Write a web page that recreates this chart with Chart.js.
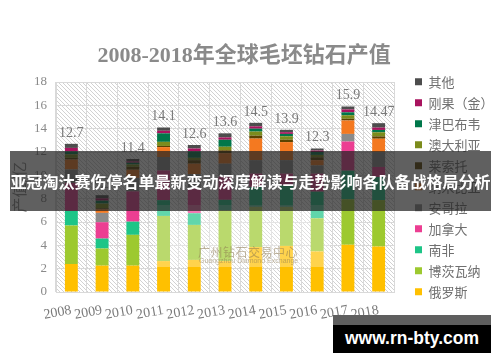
<!DOCTYPE html>
<html>
<head>
<meta charset="utf-8">
<script src="https://cdn.jsdelivr.net/npm/chart.js@4.4.1/dist/chart.umd.min.js"></script>
<style>
  body { margin: 0; background: #fff; }
  #wrap { position: relative; width: 500px; height: 362px; }
  canvas { display: block; }
  .over { position: absolute; }
  #haze { left: 155px; top: 205px; width: 175px; height: 62px; background: rgba(255,255,255,0.3); }
  #mark1 { left: 198px; top: 243px; font: 12px "Noto Sans CJK SC"; color: rgba(140,120,80,0.55); letter-spacing: 0.5px; }
  #mark2 { left: 199px; top: 257px; font: 7px "Liberation Sans"; color: rgba(140,120,80,0.55); }
  #banner { left: 10px; top: 151px; width: 481px; height: 60px; background: rgba(35,35,35,0.72);
            color: #fff; font: bold 16px "Noto Sans CJK SC"; line-height: 60px; text-align: center; white-space: nowrap; }
  #siteTop { left: 333px; top: 315px; width: 158px; height: 10px; background: #5e5e5e; }
  #site { left: 333px; top: 325px; width: 158px; height: 28px; background: #000; color: #fff;
          font: bold 17.5px "Liberation Sans"; line-height: 26px; text-align: center; }
</style>
</head>
<body>
<div id="wrap">
  <canvas id="myChart" width="500" height="362"></canvas>
  <div class="over" id="haze"></div>
  <div class="over" id="mark1">广州钻石交易中心</div>
  <div class="over" id="mark2">Guangzhou Diamond Exchange</div>
  <div class="over" id="banner">亚冠淘汰赛伤停名单最新变动深度解读与走势影响各队备战格局分析</div>
  <div class="over" id="siteTop"></div>
  <div class="over" id="site">www.rn-bty.com</div>
</div>
<script>
  // 数据（十亿美元），从下往上堆叠
  const years = ['2008', '2009', '2010', '2011', '2012', '2013', '2014', '2015', '2016', '2017', '2018'];
  const totals = [12.7, 8.3, 11.4, 14.1, 12.6, 13.6, 14.5, 13.9, 12.3, 15.9, 14.47];

  const russia      = [2.4, 2.26, 2.26, 2.65, 2.75, 2.65, 3.85, 3.95, 3.48, 4.05, 3.9];
  const botswana    = [3.3, 1.47, 2.64, 3.87, 3.0, 4.35, 3.45, 3.35, 2.84, 3.9, 3.98];
  const southAfrica = [1.25, 0.85, 1.13, 1.35, 1.0, 0.9, 1.7, 1.85, 2.28, 2.45, 1.98];
  const canada      = [2.4, 1.4, 2.6, 2.55, 2.15, 2.0, 1.15, 1.0, 1.55, 2.5, 0.86];
  const angola      = [1.15, 0.8, 1.15, 1.15, 1.2, 1.1, 1.15, 1.15, 0.7, 0.65, 1.27];
  const namibia     = [0.85, 0.3, 0.7, 0.85, 0.9, 0.9, 1.85, 1.55, 0.45, 1.15, 1.15];
  const lesotho     = [0.15, 0.1, 0.25, 0.1, 0.3, 0.25, 0.25, 0.2, 0.25, 0.15, 0.2];
  const australia   = [0.3, 0.4, 0.2, 0.35, 0.2, 0.3, 0.35, 0.3, 0.2, 0.3, 0.35];
  const zimbabwe    = [0.25, 0.25, 0.15, 0.73, 0.55, 0.6, 0.25, 0.2, 0.25, 0.25, 0.2];
  const drc         = [0.3, 0.2, 0.12, 0.22, 0.25, 0.2, 0.2, 0.15, 0.12, 0.25, 0.2];
  const others      = [0.35, 0.27, 0.2, 0.28, 0.3, 0.35, 0.3, 0.2, 0.18, 0.25, 0.38];

  const seriesNames = ['俄罗斯', '博茨瓦纳', '南非', '加拿大', '安哥拉', '纳米比亚', '莱索托', '澳大利亚', '津巴布韦', '刚果（金）', '其他'];
  const seriesData = [russia, botswana, southAfrica, canada, angola, namibia, lesotho, australia, zimbabwe, drc, others];
  const seriesColors = ['#FFC000', '#9DC92F', '#1DC587', '#EC3E92', '#8B8B8B', '#F47920', '#5C4300', '#7C8C1C', '#00774A', '#A8135E', '#4D4D4D'];

  // 斜线底纹
  const hatchTile = document.createElement('canvas');
  hatchTile.width = 4;
  hatchTile.height = 4;
  const hg = hatchTile.getContext('2d');
  hg.strokeStyle = '#d2d2d2';
  hg.lineWidth = 1;
  hg.beginPath();
  hg.moveTo(-1, -1); hg.lineTo(5, 5);
  hg.moveTo(-1, 3); hg.lineTo(1, 5);
  hg.moveTo(3, -1); hg.lineTo(5, 1);
  hg.stroke();

  const plotBg = {
    id: 'plotBg',
    beforeDraw(chart) {
      const {ctx, chartArea: a} = chart;
      ctx.save();
      ctx.fillStyle = ctx.createPattern(hatchTile, 'repeat');
      ctx.fillRect(a.left, a.top, a.width, a.height);
      ctx.restore();
    }
  };

  // 柱顶合计
  const totalLabels = {
    id: 'totalLabels',
    afterDatasetsDraw(chart) {
      const {ctx, scales: {x, y}} = chart;
      ctx.save();
      ctx.font = '14px "Liberation Serif"';
      ctx.fillStyle = '#7a7a7a';
      ctx.textAlign = 'center';
      ctx.textBaseline = 'middle';
      totals.forEach((t, i) => {
        ctx.fillText(String(t), x.getPixelForValue(i), y.getPixelForValue(t) - 11);
      });
      ctx.restore();
    }
  };

  const serif = '"Liberation Serif", "Times New Roman", serif';

  const ctx = document.getElementById('myChart').getContext('2d');
  new Chart(ctx, {
    type: 'bar',
    data: {
      labels: years,
      datasets: seriesNames.map((name, i) => ({
        label: name,
        data: seriesData[i],
        backgroundColor: seriesColors[i],
        borderWidth: 0,
        categoryPercentage: 1,
        barPercentage: 0.42
      }))
    },
    options: {
      responsive: false,
      animation: false,
      devicePixelRatio: 1,
      layout: { padding: { top: 21.4, bottom: 10, left: 0, right: 11.6 } },
      plugins: {
        tooltip: { enabled: false },
        title: {
          display: true,
          text: '2008-2018年全球毛坯钻石产值',
          color: '#8a8a8a',
          font: { size: 22, weight: 'bold', family: serif + ', "Noto Sans CJK SC"' },
          padding: { top: 21.4, bottom: 12.8 }
        },
        legend: {
          position: 'right',
          reverse: true,
          labels: {
            boxWidth: 7,
            boxHeight: 7,
            padding: 8,
            color: '#707070',
            font: { size: 13, family: '"Noto Sans CJK SC"' }
          }
        }
      },
      scales: {
        x: {
          stacked: true,
          grid: { color: '#d9d9d9', drawTicks: false },
          border: { color: '#d9d9d9' },
          ticks: {
            color: '#7a7a7a',
            font: { size: 14, family: serif },
            minRotation: 10,
            maxRotation: 10,
            autoSkip: false,
            padding: 10
          },
          afterFit: s => { s.height = 60; }
        },
        y: {
          stacked: true,
          min: 0,
          max: 18,
          grid: { color: '#d9d9d9', drawTicks: false },
          border: { color: '#d9d9d9' },
          ticks: {
            stepSize: 2,
            color: '#8a8a8a',
            font: { size: 13, family: serif },
            padding: 9
          },
          title: {
            display: true,
            text: '产值/亿',
            color: '#8a8a8a',
            font: { size: 15, family: '"Noto Sans CJK SC"' },
            padding: { top: 10, bottom: 0 }
          },
          afterFit: s => { s.width = 56; }
        },
        // 图例与绘图区之间的空隙
        pad: {
          type: 'linear',
          position: 'right',
          grid: { display: false },
          border: { display: false },
          ticks: { display: false },
          afterFit: s => { s.width = 13; }
        }
      }
    },
    plugins: [plotBg, totalLabels]
  });
</script>
</body>
</html>
